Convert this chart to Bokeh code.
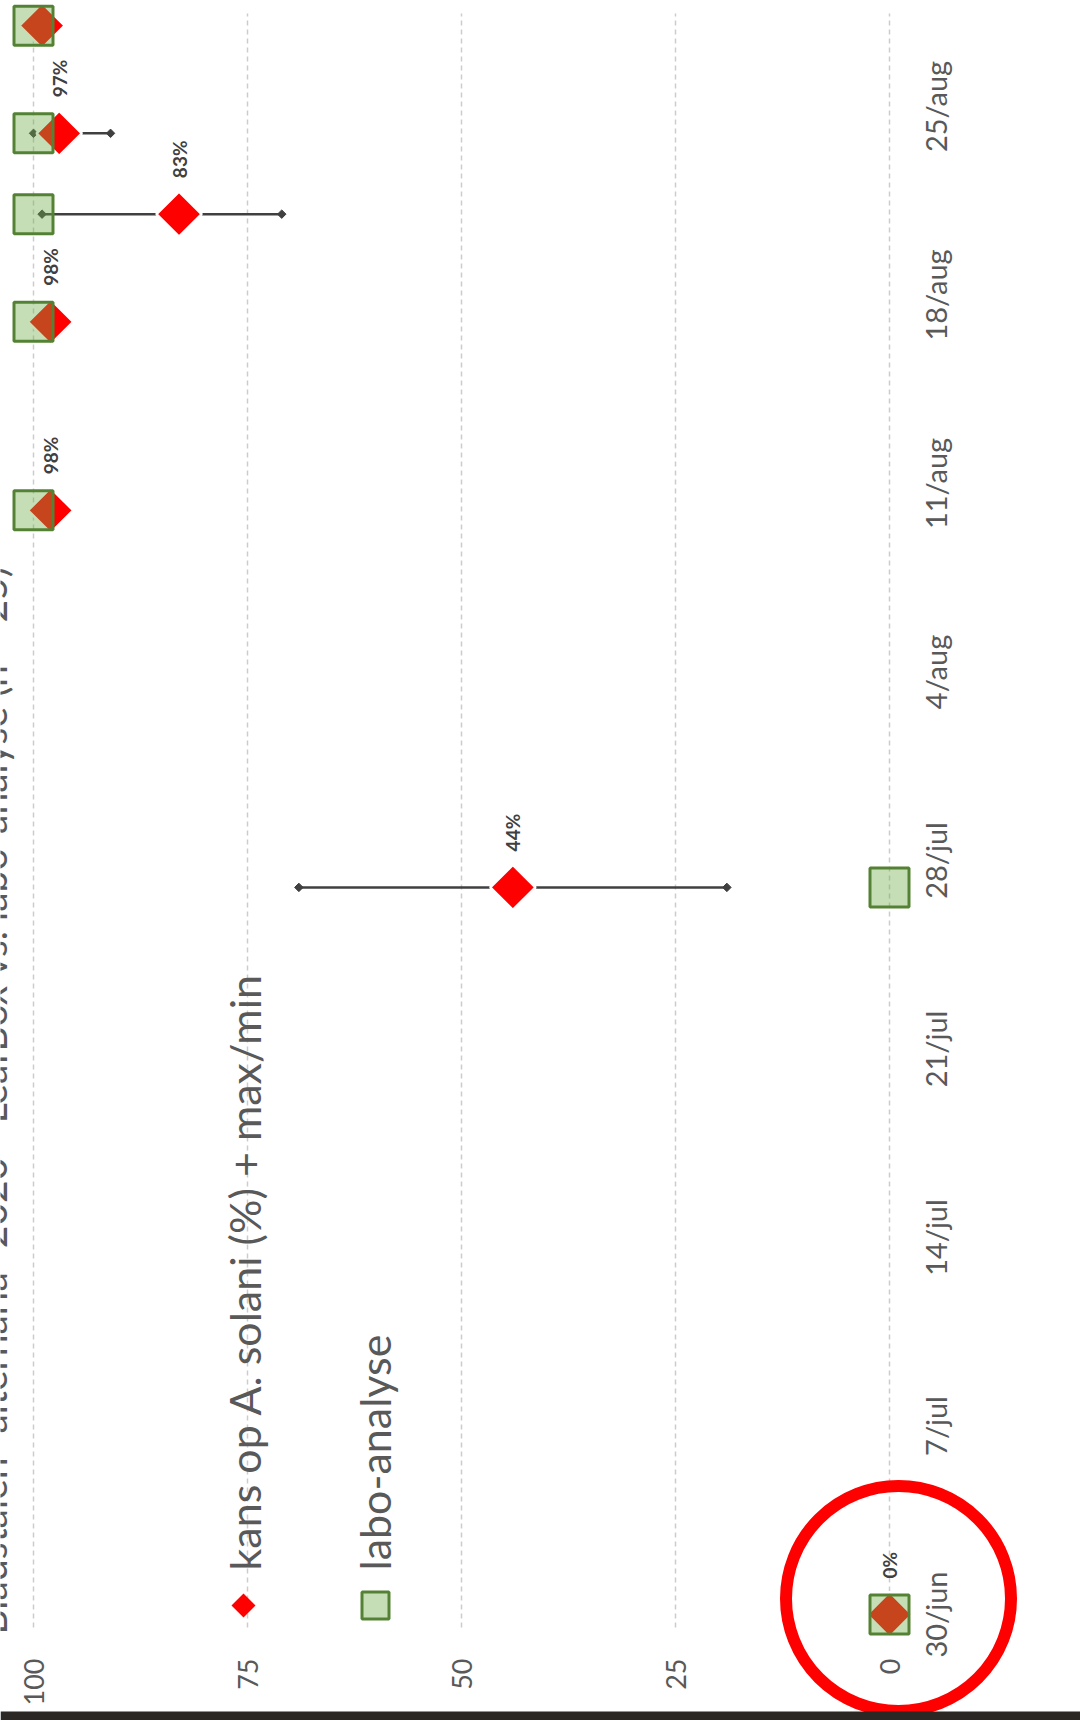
import math
import pandas as pd
from bokeh.plotting import figure
from bokeh.models import Range1d, Label, ColumnDataSource
from bokeh.embed import file_html
from bokeh.resources import INLINE
from bokeh.core.properties import value

# ---------------- data ----------------
title_text = 'Bladstalen "alternaria" 2020 - LeafBox vs. labo-analyse (n = 25)'
dates = ["2020-06-30", "2020-07-27", "2020-08-10", "2020-08-17",
         "2020-08-21", "2020-08-24", "2020-08-28"]
kans = [0, 44, 98, 98, 83, 97, 99]          # kans op A. solani (%)
kans_min = [0, 19, 96, 96, 71, 91, 99]
kans_max = [0, 69, 100, 100, 99, 100, 100]
labo = [0, 0, 100, 100, 100, 100, 100]      # labo-analyse
# the label of the last point lies outside the photographed area
kans_labels = ["0%", "44%", "98%", "98%", "83%", "97%", ""]

value_ticks = [0, 25, 50, 75, 100]
value_tick_labels = ["0", "25", "50", "75", "100"]
date_ticks = ["2020-06-30", "2020-07-07", "2020-07-14", "2020-07-21", "2020-07-28",
              "2020-08-04", "2020-08-11", "2020-08-18", "2020-08-25"]
date_tick_labels = ["30/jun", "7/jul", "14/jul", "21/jul", "28/jul",
                    "4/aug", "11/aug", "18/aug", "25/aug"]
legend_labels = ["kans op A. solani (%) + max/min", "labo-analyse"]

# ---------------- layout (the chart is photographed rotated 90 degrees) ----------------
W, H = 1080, 1720
X0, PX_VAL = 889, 8.56      # screen x of value 0, px per percent (value grows to the left)
Y0, PX_DAY = 1614, 26.93    # screen y of the first date, px per day (time grows upward)

def v_at(px):               # screen x -> value
    return (X0 - px) / PX_VAL

def d_at(py):               # screen y -> day offset
    return (Y0 - py) / PX_DAY

origin = pd.Timestamp(date_ticks[0])
def to_day(d):
    return (pd.Timestamp(d) - origin) / pd.Timedelta(days=1)

days = [to_day(d) for d in dates]
tick_days = [to_day(d) for d in date_ticks]

FONT = "Lato"
GRAY = "#595959"
ROT = math.pi / 2

p = figure(width=W, height=H, output_backend="svg", toolbar_location=None, title=None,
           x_range=Range1d(v_at(0), v_at(W)), y_range=Range1d(d_at(H), d_at(0)),
           x_axis_location=None, y_axis_location=None)
p.min_border = 0
p.outline_line_color = None
p.background_fill_color = "white"
p.border_fill_color = "white"
p.grid.visible = False

# value grid lines (dashed) and value tick labels
p.segment(x0=value_ticks, x1=value_ticks, y0=d_at(1627), y1=d_at(13),
          line_color="#cccccc", line_width=1.5, line_dash="5 4")
p.text(x=value_ticks, y=d_at(1658), text=value_tick_labels, angle=ROT,
       text_align="right", text_baseline="middle", text_font=value(FONT),
       text_font_size="27px", text_color=GRAY)

# date tick labels
p.text(x=v_at(935), y=tick_days, text=date_tick_labels, angle=ROT,
       text_align="center", text_baseline="middle", text_font=value(FONT),
       text_font_size="29px", text_color=GRAY)

src = ColumnDataSource(dict(day=days, kans=kans, kmin=kans_min, kmax=kans_max,
                            labo=labo, lab=kans_labels))

# error bars (max/min)
p.segment(x0="kmin", y0="day", x1="kmax", y1="day", source=src,
          line_color="#404040", line_width=2.5)
p.scatter(x="kmin", y="day", source=src, marker="square", angle=math.pi / 4,
          size=6, color="#404040")
p.scatter(x="kmax", y="day", source=src, marker="square", angle=math.pi / 4,
          size=6, color="#404040")

# kans diamonds
p.scatter(x="kans", y="day", source=src, marker="square", angle=math.pi / 4,
          size=32, fill_color="#FF0000", line_color="white", line_width=2.6)

# labo squares
p.scatter(x="labo", y="day", source=src, marker="square", size=39,
          fill_color="#70AD47", fill_alpha=0.4, line_color="#548235", line_width=3)

# value labels
p.text(x="kans", y="day", text="lab", source=src, angle=ROT, y_offset=-36,
       text_align="left", text_baseline="middle", text_font=value(FONT),
       text_font_size="19px", text_font_style="bold", text_color="#404040")

# legend (rotated like the chart)
p.scatter(x=[v_at(243)], y=[d_at(1605)], marker="square", angle=math.pi / 4, size=17,
          fill_color="#FF0000", line_color=None)
p.scatter(x=[v_at(375)], y=[d_at(1605)], marker="square", size=27,
          fill_color="#70AD47", fill_alpha=0.4, line_color="#548235", line_width=3)
p.text(x=[v_at(244), v_at(374)], y=[d_at(1570)] * 2, text=legend_labels, angle=ROT,
       text_align="left", text_baseline="middle", text_font=value(FONT),
       text_font_size="43px", text_color=GRAY)

# title (cut off at the left edge of the photo)
p.add_layout(Label(x=v_at(-9), y=d_at(1634), text=title_text,
                   angle=ROT, text_align="left", text_baseline="alphabetic",
                   text_font=FONT, text_font_size="39px", text_color=GRAY))

# red highlight circle around the first point
p.scatter(x=[kans[0] + v_at(898) - v_at(X0)], y=[days[0] + d_at(1598) - d_at(Y0)],
          marker="circle", size=225, fill_color=None, line_color="#FF0000", line_width=12)

# dark strip at the bottom edge of the photo
p.quad(left=v_at(0), right=v_at(W), top=d_at(1711), bottom=d_at(H),
       fill_color="#2b2725", line_color=None)

open("out.html", "w").write(file_html(p, INLINE))
